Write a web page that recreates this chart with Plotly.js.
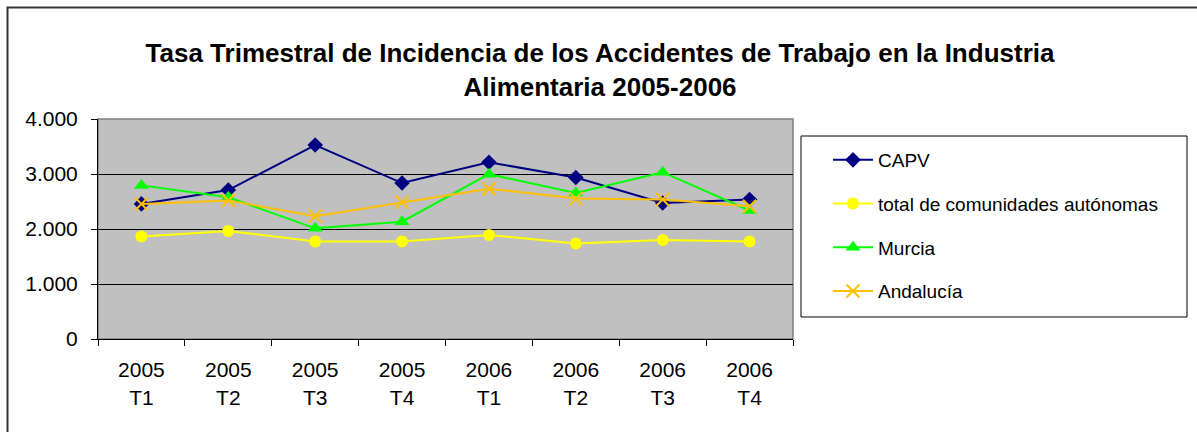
<!DOCTYPE html>
<html>
<head>
<meta charset="utf-8">
<script src="https://cdn.plot.ly/plotly-3.0.1.min.js"></script>
<style>
  html, body { margin: 0; padding: 0; background: #ffffff; }
  #chart { width: 1197px; height: 432px; }
</style>
</head>
<body>
<div id="chart"></div>
<script>
// ---- Data ----
const categories = ["2005<br>T1", "2005<br>T2", "2005<br>T3", "2005<br>T4",
                    "2006<br>T1", "2006<br>T2", "2006<br>T3", "2006<br>T4"];
const capv      = [2456, 2708, 3526, 2835, 3213, 2937, 2474, 2535];
const totalCCAA = [1862, 1964, 1772, 1772, 1892, 1736, 1802, 1772];
const murcia    = [2793, 2577, 2012, 2132, 2997, 2655, 3033, 2336];
const andalucia = [2456, 2517, 2234, 2486, 2733, 2553, 2535, 2414];
const seriesNames = ["CAPV", "total de comunidades autónomas", "Murcia", "Andalucía"];
const yTicks = [0, 1000, 2000, 3000, 4000];
const titleText = "Tasa Trimestral de Incidencia de los Accidentes de Trabajo en la Industria<br>Alimentaria 2005-2006";

// ---- Layout geometry (pixels) ----
const W = 1197, H = 432;
const L = 98, R = 793, T = 119, B = 339;
const pw = R - L, ph = B - T;
const px = x => (x - L) / pw;
const py = y => (B - y) / ph;

const FONT = "Liberation Sans, Arial, sans-serif";

function tr(name, y, color, symbol, msize, group, mline) {
  return {
    type: "scatter", mode: "lines+markers", name: name,
    x: categories, y: y, legendgroup: group,
    line: { color: color, width: 2 },
    marker: Object.assign({ symbol: symbol, size: msize, color: color }, mline || {}),
    hoverinfo: "x+y+name"
  };
}

const data = [
  tr(seriesNames[0], capv, "#000080", "diamond", 12, "g1"),
  tr(seriesNames[1], totalCCAA, "#FFFF00", "circle", 12, "g2"),
  tr(seriesNames[2], murcia, "#00FF00", "triangle-up", 13, "g3"),
  tr(seriesNames[3], andalucia, "#FFC000", "x-thin-open", 13, "g4", { line: { color: "#FFC000", width: 2 } })
];

const layout = {
  width: W, height: H,
  margin: { l: L, r: W - R, t: T, b: H - B, pad: 0 },
  paper_bgcolor: "#ffffff",
  plot_bgcolor: "#C0C0C0",
  separators: ",.",
  font: { family: FONT, color: "#000000", size: 20 },
  title: {
    text: titleText,
    font: { family: FONT, size: 26, color: "#000000", weight: "bold" },
    x: 600 / W, xanchor: "center",
    y: 1 - 62 / H, yanchor: "top", yref: "container"
  },
  showlegend: true,
  legend: {
    x: px(828), y: py(141), xanchor: "left", yanchor: "top",
    xref: "paper", yref: "paper",
    bgcolor: "rgba(0,0,0,0)", borderwidth: 0,
    font: { family: FONT, size: 19, color: "#000000" },
    traceorder: "grouped", tracegroupgap: 16,
    itemwidth: 40
  },
  xaxis: {
    type: "category",
    range: [-0.5, categories.length - 0.5],
    showgrid: false, zeroline: false,
    showline: true, linecolor: "#000000", linewidth: 1,
    ticks: "outside", ticklen: 6, tickcolor: "#000000", tickwidth: 1,
    tickson: "boundaries",
    ticklabelstandoff: 12,
    tickfont: { family: FONT, size: 21, color: "#000000" },
    fixedrange: true
  },
  yaxis: {
    range: [0, 4000],
    tickvals: yTicks, tickformat: ",d",
    showgrid: true, gridcolor: "#000000", gridwidth: 1,
    zeroline: false,
    showline: true, linecolor: "#000000", linewidth: 1,
    ticks: "outside", ticklen: 6, tickcolor: "#000000", tickwidth: 1,
    ticklabelstandoff: 9,
    tickfont: { family: FONT, size: 21, color: "#000000" },
    fixedrange: true
  },
  shapes: [
    // plot area top/right gray border
    { type: "rect", xref: "paper", yref: "paper", x0: 0, x1: 1, y0: 0, y1: 1,
      line: { color: "#808080", width: 1.5 }, layer: "below" },
    // legend box
    { type: "rect", xref: "paper", yref: "paper",
      x0: px(801), x1: px(1187), y0: py(317), y1: py(136),
      line: { color: "#000000", width: 1 }, fillcolor: "#ffffff", layer: "below" },
    // outer chart border
    { type: "rect", xref: "paper", yref: "paper",
      x0: px(7.5), x1: px(1300), y0: py(600), y1: py(7.5),
      line: { color: "#333333", width: 2 } }
  ]
};

Plotly.newPlot("chart", data, layout, { displayModeBar: false, staticPlot: true });
</script>
</body>
</html>
